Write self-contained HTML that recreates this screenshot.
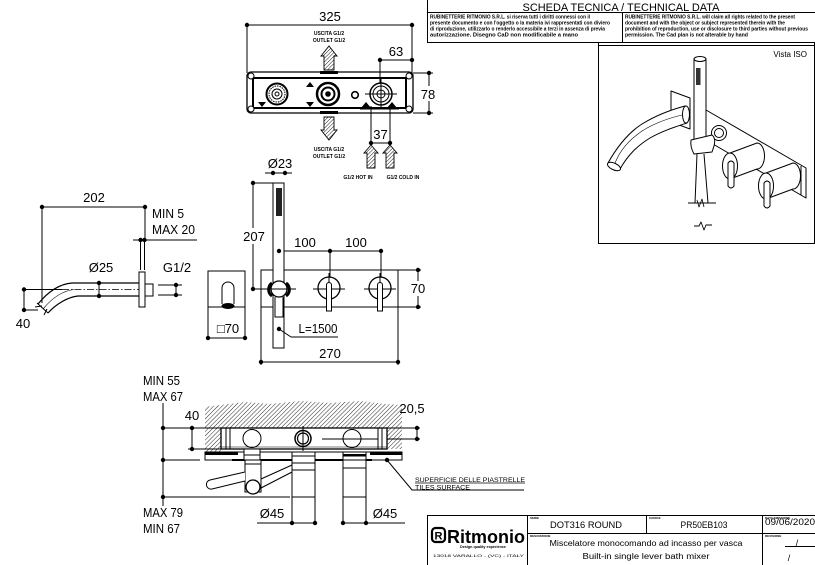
<!DOCTYPE html>
<html><head><meta charset="utf-8">
<style>
html,body{margin:0;padding:0;background:#fff;}
svg{display:block;}
text{font-family:"Liberation Sans",Arial,sans-serif;fill:#000;stroke:none;}
</style></head><body>
<svg width="815" height="565" viewBox="0 0 815 565" xmlns="http://www.w3.org/2000/svg">
<defs>
<pattern id="h" width="2.6" height="2.6" patternUnits="userSpaceOnUse" patternTransform="rotate(45)">
<rect width="2.6" height="2.6" fill="#fff"/><line x1="0" y1="0" x2="0" y2="2.6" stroke="#000" stroke-width="0.9"/></pattern>
<pattern id="w" width="3" height="3" patternUnits="userSpaceOnUse" patternTransform="rotate(45)">
<rect width="3" height="3" fill="#fff"/><line x1="0" y1="0" x2="0" y2="3" stroke="#111" stroke-width="0.9"/></pattern>
</defs>

<!-- ===== HEADER ===== -->
<g stroke="#000" fill="none" stroke-width="1">
<line x1="427.5" y1="0" x2="427.5" y2="43"/>
<line x1="427" y1="12.5" x2="815" y2="12.5"/>
<line x1="427" y1="42.5" x2="815" y2="42.5"/>
<line x1="622.5" y1="12.5" x2="622.5" y2="42.5"/>
<line x1="598.5" y1="42.5" x2="598.5" y2="243.5"/>
<line x1="598" y1="45.5" x2="815" y2="45.5"/>
<line x1="598" y1="243.5" x2="815" y2="243.5"/>
<line x1="814.5" y1="42" x2="814.5" y2="244"/>
</g>
<text x="621" y="11" font-size="11" text-anchor="middle" textLength="197" lengthAdjust="spacingAndGlyphs">SCHEDA TECNICA / TECHNICAL DATA</text>
<g font-size="5" font-weight="bold">
<text x="430" y="18.5" textLength="160" lengthAdjust="spacingAndGlyphs">RUBINETTERIE RITMONIO S.R.L. si riserva tutti i diritti connessi con il</text>
<text x="430" y="24.5" textLength="180" lengthAdjust="spacingAndGlyphs">presente documento e con l'oggetto o la materia ivi rappresentati con diviero</text>
<text x="430" y="30.5" textLength="175" lengthAdjust="spacingAndGlyphs">di riproduzione, utilizzarlo o renderlo accessibile a terzi in assenza di previa</text>
<text x="430" y="36.5" textLength="148" lengthAdjust="spacingAndGlyphs">autorizzazione. Disegno CaD non modificabile a mano</text>
<text x="625" y="18.5" textLength="170" lengthAdjust="spacingAndGlyphs">RUBINETTERIE RITMONIO S.R.L. will claim all rights related to the present</text>
<text x="625" y="24.5" textLength="160" lengthAdjust="spacingAndGlyphs">document and with the object or subject represented therein with the</text>
<text x="625" y="30.5" textLength="183" lengthAdjust="spacingAndGlyphs">prohibition  of reproduction, use or disclosure to third parties without previous</text>
<text x="625" y="36.5" textLength="123" lengthAdjust="spacingAndGlyphs">permission.  The Cad plan is not alterable by hand</text>
</g>

<!-- ===== ISO VIEW ===== -->
<text x="807" y="57" font-size="8" text-anchor="end">Vista ISO</text>
<g stroke="#000" stroke-width="1" fill="#fff" stroke-linejoin="round">
<path d="M706,110 L806,168 L806,198 L706,140 Z"/>
<line x1="801" y1="166" x2="801" y2="195"/>
<path d="M671,91 L690,98 L690,129 L671,122 Z"/>
<path d="M685,106 C670,110 655,116 642,124 C628,133 617,147 608,163 L620,169 C628,155 637,146 650,138 C662,131 675,127 687,123 Z"/>
<path d="M682,115 C665,119 648,126 638,134 C626,143 618,154 614,166" fill="none" stroke-width="0.6"/>
<ellipse cx="614" cy="166.5" rx="7" ry="3.3" transform="rotate(25 614 166.5)"/>
<ellipse cx="686" cy="114.5" rx="3.5" ry="8.5"/>
<rect x="694" y="59" width="12" height="86"/>
<ellipse cx="700" cy="59" rx="6" ry="2.5"/>
<rect x="696" y="68" width="4.5" height="17" fill="#333" stroke="none"/>
<circle cx="719" cy="133" r="7.5"/>
<circle cx="719" cy="133" r="4.5"/>
<path d="M691,140 L712,135 Q716,138 714,146 L712,152 L694,154 Q690,147 691,140 Z"/>
<path d="M697,154 L695,203 M704,154 L708,203" fill="none"/>
<line x1="688" y1="203" x2="716" y2="203" fill="none"/>
<path d="M697,200 L699,207 L702,199 L704,207" fill="none" stroke-width="0.8"/>
<path d="M694,226 L699,226 L701,222 L704,230 L706,225 L712,225" fill="none" stroke-width="0.9"/>
<path d="M730,153 L757,143 A7.5,13 0 0 1 757,169 L730,179 Z"/>
<ellipse cx="730" cy="166" rx="7.5" ry="13"/>
<path d="M728,163 L728,186 Q731,190 734,186 L734,163 Q731,159 728,163 Z"/>
<path d="M766,173 L793,163 A7.5,13 0 0 1 793,189 L766,199 Z"/>
<ellipse cx="766" cy="186" rx="7.5" ry="13"/>
<path d="M764,183 L764,206 Q767,210 770,206 L770,183 Q767,179 764,183 Z"/>
</g>

<!-- ===== TOP PLAN (plate) ===== -->
<g stroke="#000" stroke-width="1" fill="none">
<line x1="247" y1="25" x2="412" y2="25"/>
<line x1="247" y1="25" x2="247" y2="73"/>
<line x1="412" y1="25" x2="412" y2="73"/>
<line x1="380" y1="60" x2="412" y2="60"/>
<line x1="380" y1="60" x2="380" y2="83"/>
<line x1="413" y1="73" x2="433" y2="73"/>
<line x1="413" y1="113" x2="433" y2="113"/>
<line x1="429" y1="73" x2="429" y2="86"/>
<line x1="429" y1="101" x2="429" y2="113"/>
<line x1="371" y1="106" x2="371" y2="145"/>
<line x1="390" y1="106" x2="390" y2="145"/>
<line x1="371" y1="143" x2="390" y2="143"/>
<rect x="247" y="72" width="166" height="41" rx="4" stroke-width="1.3"/>
<rect x="253" y="78" width="153" height="30" stroke-width="2"/>
<circle cx="251" cy="76" r="3" fill="#fff"/><circle cx="409" cy="76" r="3" fill="#fff"/>
<circle cx="251" cy="109" r="3" fill="#fff"/><circle cx="409" cy="109" r="3" fill="#fff"/>
<circle cx="277" cy="94" r="10.5" stroke-width="2"/>
<circle cx="277" cy="94" r="8" stroke-dasharray="1.5 1"/>
<circle cx="277" cy="94" r="5"/>
<circle cx="277" cy="94" r="2"/>
<circle cx="328" cy="94" r="11" stroke-width="2.5"/>
<circle cx="328" cy="94" r="6.5" stroke-width="2"/>
<circle cx="328" cy="94" r="2.3" fill="#000"/>
<circle cx="355" cy="95" r="3.3" stroke-width="1.6"/>
<circle cx="381" cy="94" r="11" stroke-width="1.5"/>
<circle cx="381" cy="94" r="8"/>
<circle cx="381" cy="94" r="4"/>
<line x1="365" y1="94" x2="397" y2="94"/>
<line x1="381" y1="79" x2="381" y2="109"/>
<line x1="360" y1="108.5" x2="399" y2="108.5" stroke-width="2"/>
</g>
<g fill="#000">
<rect x="320" y="71" width="18" height="3"/><rect x="320" y="111" width="18" height="3"/>
<polygon points="258,102 266,102 262,107"/>
<polygon points="306,87 314,87 310,82"/>
<polygon points="306,102 314,102 310,107"/>
<polygon points="361,108 371,108 366,102"/>
<polygon points="387,108 397,108 392,102"/>
<circle cx="247" cy="25" r="2.2"/><circle cx="412" cy="25" r="2.2"/>
<circle cx="380" cy="60" r="2.2"/><circle cx="412" cy="60" r="2.2"/>
<circle cx="429" cy="73" r="2.2"/><circle cx="429" cy="113" r="2.2"/>
<circle cx="371" cy="143" r="2.2"/><circle cx="390" cy="143" r="2.2"/>
</g>
<g stroke="#000" stroke-width="0.9" fill="url(#h)">
<polygon points="329,46 337,56 334,56 334,70 324,70 324,56 321,56"/>
<polygon points="324,117 334,117 334,130 337,130 329,140 321,130 324,130"/>
<polygon points="371,145 378,153 375,153 375,168 367,168 367,153 364,153"/>
<polygon points="390,145 397,153 394,153 394,168 386,168 386,153 383,153"/>
</g>
<text x="330" y="21" font-size="13" text-anchor="middle">325</text>
<text x="396" y="56" font-size="13" text-anchor="middle">63</text>
<text x="428" y="99" font-size="13" text-anchor="middle">78</text>
<text x="380.5" y="139" font-size="13" text-anchor="middle">37</text>
<g font-size="5" font-weight="bold" text-anchor="middle">
<text x="329" y="35">USCITA G1/2</text>
<text x="329" y="42">OUTLET G1/2</text>
<text x="329" y="151">USCITA G1/2</text>
<text x="329" y="158">OUTLET G1/2</text>
<text x="358" y="179">G1/2 HOT IN</text>
<text x="403" y="179">G1/2 COLD IN</text>
</g>

<!-- ===== SIDE VIEW SPOUT ===== -->
<g stroke="#000" stroke-width="1" fill="none">
<line x1="42" y1="207" x2="145" y2="207"/>
<line x1="42" y1="207" x2="42" y2="303"/>
<line x1="145" y1="207" x2="145" y2="240"/>
<line x1="133" y1="240" x2="197" y2="240"/>
<line x1="140.5" y1="240" x2="140.5" y2="270"/>
<line x1="144.5" y1="240" x2="144.5" y2="270"/>
<path d="M143,283 L72,283 C58,284 47,293 38,304" stroke-width="1.2"/>
<path d="M143,296 L78,296 C68,297 56,304 48,313" stroke-width="1.2"/>
<path d="M74,289.5 C62,291 52,298 43,309" stroke-width="0.6"/>
<path d="M37,303 L48,313 M35,307 L42,306 M44,315 L47,309" stroke-width="1"/>
<line x1="24" y1="289.5" x2="62" y2="289.5"/>
<line x1="62" y1="289.5" x2="152" y2="289.5" stroke-dasharray="7 2 1.5 2" stroke-width="0.8"/>
<rect x="139" y="272" width="6" height="35" fill="#fff"/>
<rect x="145" y="284" width="8" height="12" fill="#fff"/>
<line x1="99" y1="283" x2="99" y2="296"/>
<line x1="158" y1="285" x2="182" y2="285"/>
<line x1="158" y1="295" x2="182" y2="295"/>
<line x1="176" y1="285" x2="176" y2="295"/>
<line x1="24" y1="289" x2="24" y2="310"/>
<line x1="24" y1="310" x2="38" y2="310"/>
</g>
<g fill="#000">
<circle cx="42" cy="207" r="2.2"/><circle cx="145" cy="207" r="2.2"/>
<circle cx="140.5" cy="240" r="2.2"/><circle cx="144.5" cy="240" r="2.2"/>
<circle cx="99" cy="283" r="2.2"/><circle cx="99" cy="296" r="2.2"/>
<circle cx="176" cy="285" r="2.2"/><circle cx="176" cy="295" r="2.2"/>
<circle cx="24" cy="289.5" r="2.2"/><circle cx="24" cy="310" r="2.2"/>
</g>
<text x="94" y="202" font-size="13" text-anchor="middle">202</text>
<text x="152" y="218" font-size="12.5" textLength="32" lengthAdjust="spacingAndGlyphs">MIN 5</text>
<text x="152" y="234" font-size="12.5" textLength="43" lengthAdjust="spacingAndGlyphs">MAX 20</text>
<text x="101" y="272" font-size="13" text-anchor="middle">Ø25</text>
<text x="177" y="272" font-size="13" text-anchor="middle">G1/2</text>
<text x="23" y="328" font-size="13" text-anchor="middle">40</text>

<!-- ===== FRONT VIEW ===== -->
<g stroke="#000" stroke-width="1" fill="none">
<line x1="265" y1="173" x2="292" y2="173"/>
<line x1="253" y1="183" x2="273" y2="183"/>
<line x1="253" y1="183" x2="253" y2="228"/>
<line x1="253" y1="244" x2="253" y2="289"/>
<line x1="253" y1="289" x2="268" y2="289"/>
<line x1="279" y1="251" x2="382" y2="251"/>
<line x1="279" y1="251" x2="279" y2="281"/>
<line x1="330" y1="251" x2="330" y2="277"/>
<line x1="381" y1="251" x2="381" y2="277"/>
<rect x="208" y="271" width="37" height="36"/>
<path d="M222,304 L222,288 A6,6 0 0 1 234,288 L234,304" />
<rect x="261" y="270" width="137" height="37"/>
<line x1="398" y1="270" x2="421" y2="270"/>
<line x1="398" y1="307" x2="421" y2="307"/>
<line x1="418" y1="270" x2="418" y2="281"/>
<line x1="418" y1="296" x2="418" y2="307"/>
<line x1="208" y1="307" x2="208" y2="340"/>
<line x1="245" y1="307" x2="245" y2="340"/>
<line x1="208" y1="338" x2="245" y2="338"/>
<line x1="261" y1="307" x2="261" y2="365"/>
<line x1="398" y1="307" x2="398" y2="365"/>
<line x1="261" y1="362" x2="398" y2="362"/>
<line x1="262" y1="289" x2="296" y2="289"/>
<rect x="273" y="183" width="11" height="165" fill="#fff"/>
<rect x="276" y="188" width="6" height="28" fill="#222" stroke="none"/>
<circle cx="279" cy="289" r="8" fill="#fff" stroke-width="1.3"/>
<path d="M272,283 A8,8 0 0 0 272,296" stroke-width="3"/>
<path d="M286,283 A8,8 0 0 1 286,296" stroke-width="3"/>
<line x1="264" y1="289" x2="296" y2="289"/>
<path d="M275,297 L275,317 L283,317 L283,297"/>
<line x1="279" y1="329" x2="291" y2="337"/>
<line x1="291" y1="337" x2="338" y2="337"/>
<circle cx="329" cy="288" r="11" fill="#fff" stroke-width="1.3"/>
<line x1="313" y1="289" x2="345" y2="289"/>
<line x1="329" y1="273" x2="329" y2="300"/>
<path d="M326.5,285 L326.5,311 L331.5,311 L331.5,285 A2.5,2.5 0 0 0 326.5,285 Z" fill="#fff"/>
<circle cx="380" cy="288" r="11" fill="#fff" stroke-width="1.3"/>
<line x1="364" y1="289" x2="396" y2="289"/>
<line x1="380" y1="273" x2="380" y2="300"/>
<path d="M377.5,285 L377.5,311 L382.5,311 L382.5,285 A2.5,2.5 0 0 0 377.5,285 Z" fill="#fff"/>
</g>
<g fill="#000">
<ellipse cx="228" cy="306" rx="6.5" ry="3"/>
<circle cx="273" cy="173" r="2.2"/><circle cx="285" cy="173" r="2.2"/>
<circle cx="253" cy="183" r="2.2"/><circle cx="253" cy="289" r="2.2"/>
<circle cx="279" cy="251" r="2.2"/><circle cx="330" cy="251" r="2.2"/><circle cx="381" cy="251" r="2.2"/>
<circle cx="418" cy="270" r="2.2"/><circle cx="418" cy="307" r="2.2"/>
<circle cx="208" cy="338" r="2.2"/><circle cx="245" cy="338" r="2.2"/>
<circle cx="261" cy="362" r="2.2"/><circle cx="398" cy="362" r="2.2"/>
<circle cx="279" cy="329" r="2.2"/>
</g>
<text x="280" y="168" font-size="13" text-anchor="middle">Ø23</text>
<text x="254" y="241" font-size="13" text-anchor="middle">207</text>
<text x="305" y="247" font-size="13" text-anchor="middle">100</text>
<text x="356" y="247" font-size="13" text-anchor="middle">100</text>
<text x="418" y="293" font-size="13" text-anchor="middle">70</text>
<text x="228" y="333" font-size="13" text-anchor="middle">□70</text>
<text x="318" y="333" font-size="13" text-anchor="middle" textLength="39" lengthAdjust="spacingAndGlyphs">L=1500</text>
<text x="330" y="358" font-size="13" text-anchor="middle">270</text>

<!-- ===== SECTION VIEW ===== -->
<path d="M205,407 L220,405 L245,402 L270,404 L300,401 L330,403 L360,401 L385,404 L402,405 L402,449 L387,449 L387,428 L221,428 L221,452 L205,452 Z" fill="url(#w)" stroke="none"/>
<g stroke="#000" stroke-width="1" fill="none">
<line x1="163" y1="403" x2="163" y2="506"/>
<line x1="163" y1="428" x2="221" y2="428"/>
<line x1="188" y1="449" x2="221" y2="449"/>
<line x1="192" y1="428" x2="192" y2="449"/>
<line x1="163" y1="460" x2="200" y2="460"/>
<line x1="163" y1="497" x2="290" y2="497"/>
<line x1="387" y1="428" x2="420" y2="428"/>
<line x1="322" y1="439" x2="420" y2="439"/>
<line x1="417" y1="428" x2="417" y2="439"/>
<rect x="221" y="428" width="166" height="21" fill="#fff" stroke-width="1.3"/>
<line x1="226" y1="428" x2="226" y2="449"/><line x1="230" y1="428" x2="230" y2="449"/>
<line x1="378" y1="428" x2="378" y2="449"/><line x1="382" y1="428" x2="382" y2="449"/>
<line x1="221" y1="447" x2="387" y2="447" stroke-width="0.6"/>
<line x1="322" y1="439" x2="378" y2="439"/>
<circle cx="252" cy="438.5" r="9"/>
<circle cx="352" cy="438.5" r="9"/>
<circle cx="303" cy="438.5" r="8" stroke-width="1.5"/>
<circle cx="303" cy="438.5" r="5.5" stroke-width="1.2"/>
<line x1="303" y1="426" x2="303" y2="451"/>
<rect x="205" y="452" width="197" height="8" fill="#fff"/>
<line x1="232" y1="460" x2="372" y2="460" stroke-width="2"/>
<rect x="244" y="449" width="16" height="11" fill="#fff"/>
<line x1="244" y1="455" x2="260" y2="455"/>
<rect x="245" y="460" width="16" height="32" fill="#fff"/>
<line x1="245" y1="464" x2="261" y2="464"/>
<path d="M261,479 L292,465 M261,488 L292,472"/>
<path d="M245,472 L210,480 A4.5,4.5 0 0 0 212,489 L245,481" fill="#fff"/>
<circle cx="253" cy="487" r="7" fill="#fff" stroke-width="1.3"/>
<rect x="292" y="452" width="23" height="45" fill="#fff"/>
<line x1="292" y1="456" x2="315" y2="456"/>
<line x1="292" y1="463" x2="315" y2="463"/>
<line x1="292" y1="470" x2="315" y2="470"/>
<rect x="343" y="452" width="23" height="45" fill="#fff"/>
<line x1="343" y1="460" x2="366" y2="460"/>
<line x1="343" y1="468" x2="366" y2="468"/>
<line x1="292" y1="497" x2="292" y2="525"/><line x1="315" y1="497" x2="315" y2="525"/>
<line x1="343" y1="497" x2="343" y2="525"/><line x1="366" y1="497" x2="366" y2="525"/>
<line x1="257" y1="523" x2="317" y2="523"/>
<line x1="341" y1="523" x2="405" y2="523"/>
<path d="M387,460 L412,490 L524,490"/>
<line x1="415" y1="483" x2="525" y2="483" stroke-width="0.8"/>
</g>
<g fill="#000">
<rect x="205" y="452" width="33" height="3"/>
<rect x="370" y="452" width="32" height="3"/>
<rect x="343" y="454" width="23" height="2.5"/>
<circle cx="163" cy="428" r="2.2"/><circle cx="163" cy="460" r="2.2"/><circle cx="163" cy="497" r="2.2"/>
<circle cx="192" cy="428" r="2.2"/><circle cx="192" cy="449" r="2.2"/>
<circle cx="417" cy="428" r="2.2"/><circle cx="417" cy="439" r="2.2"/>
<circle cx="292" cy="523" r="2.2"/><circle cx="315" cy="523" r="2.2"/>
<circle cx="343" cy="523" r="2.2"/><circle cx="366" cy="523" r="2.2"/>
<circle cx="387" cy="460" r="2.2"/>
</g>
<text x="143" y="385" font-size="13" textLength="37" lengthAdjust="spacingAndGlyphs">MIN 55</text>
<text x="143" y="401" font-size="13" textLength="40" lengthAdjust="spacingAndGlyphs">MAX 67</text>
<text x="192" y="420" font-size="13" text-anchor="middle">40</text>
<text x="412" y="413" font-size="13" text-anchor="middle">20,5</text>
<text x="143" y="517" font-size="13" textLength="40" lengthAdjust="spacingAndGlyphs">MAX 79</text>
<text x="143" y="533" font-size="13" textLength="37" lengthAdjust="spacingAndGlyphs">MIN 67</text>
<text x="272" y="518" font-size="13" text-anchor="middle">Ø45</text>
<text x="385" y="518" font-size="13" text-anchor="middle">Ø45</text>
<text x="415" y="482" font-size="6.2" textLength="110" lengthAdjust="spacingAndGlyphs">SUPERFICIE DELLE PIASTRELLE</text>
<text x="415" y="489.5" font-size="6.2" textLength="55" lengthAdjust="spacingAndGlyphs">TILES SURFACE</text>

<!-- ===== TITLE BLOCK ===== -->
<g stroke="#000" stroke-width="1" fill="none">
<line x1="427" y1="515.5" x2="815" y2="515.5"/>
<line x1="427.5" y1="515" x2="427.5" y2="565"/>
<line x1="527.5" y1="515" x2="527.5" y2="565"/>
<line x1="527" y1="533.5" x2="815" y2="533.5"/>
<line x1="646.5" y1="515" x2="646.5" y2="533"/>
<line x1="762.5" y1="515" x2="762.5" y2="565"/>
<line x1="785" y1="546.5" x2="815" y2="546.5"/>
<rect x="432" y="528" width="13" height="14" rx="3.5" stroke-width="2.2"/>
</g>
<text x="438.5" y="539.5" font-size="11" font-weight="bold" text-anchor="middle">R</text>
<text x="447" y="543" font-size="18" font-weight="bold" textLength="78" lengthAdjust="spacingAndGlyphs">Ritmonio</text>
<text x="460" y="548" font-size="4" font-weight="bold" textLength="46" lengthAdjust="spacingAndGlyphs">Design quality experience</text>
<text x="433" y="557" font-size="4" textLength="91" lengthAdjust="spacingAndGlyphs">13018 VARALLO - (VC) - ITALY</text>
<g font-size="3" font-weight="bold">
<text x="530" y="519">SERIE</text>
<text x="649" y="519">CODICE</text>
<text x="765" y="519">DATA EMISSIONE</text>
<text x="530" y="537">DESCRIZIONE</text>
<text x="765" y="537">REVISIONE</text>
</g>
<text x="586" y="528" font-size="9" text-anchor="middle" textLength="72" lengthAdjust="spacingAndGlyphs">DOT316 ROUND</text>
<text x="704" y="528" font-size="9" text-anchor="middle" textLength="47" lengthAdjust="spacingAndGlyphs">PR50EB103</text>
<text x="765" y="525" font-size="9" textLength="50" lengthAdjust="spacingAndGlyphs">09/06/2020</text>
<text x="646" y="546" font-size="8" text-anchor="middle" textLength="193" lengthAdjust="spacingAndGlyphs">Miscelatore monocomando ad incasso per vasca</text>
<text x="646" y="559" font-size="8" text-anchor="middle" textLength="127" lengthAdjust="spacingAndGlyphs">Built-in single lever bath mixer</text>
<text x="797" y="546" font-size="9" text-anchor="middle">/</text>
<text x="789" y="561" font-size="9" text-anchor="middle">/</text>
</svg>
</body></html>
